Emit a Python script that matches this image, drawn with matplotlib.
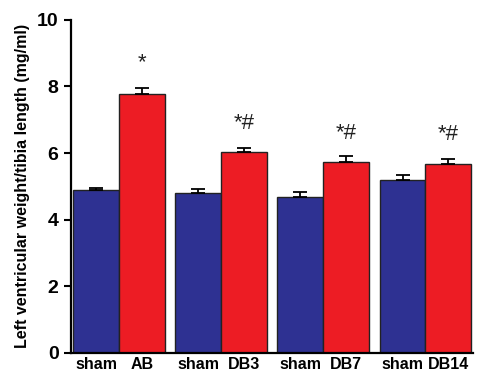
import matplotlib
matplotlib.use("Agg")
import matplotlib.pyplot as plt
import numpy as np

# datos
grupos = ["AB", "DB3", "DB7", "DB14"]
sham_media = [4.90, 4.80, 4.69, 5.20]
sham_err = [0.05, 0.13, 0.14, 0.15]
tratado_media = [7.78, 6.03, 5.73, 5.68]
tratado_err = [0.18, 0.12, 0.19, 0.15]
marcas = ["*", "*#", "*#", "*#"]
marcas_y = [8.7, 6.9, 6.6, 6.55]

azul = "#2E3192"
rojo = "#ED1C24"

plt.rcParams["font.family"] = ["Liberation Sans", "DejaVu Sans"]
plt.rcParams["font.weight"] = "bold"

fig = plt.figure(figsize=(4.83, 3.75), dpi=100)
ax = fig.add_axes([0.147, 0.059, 0.832, 0.888])

paso = 2.22
x0 = np.arange(len(grupos)) * paso + 0.5
x1 = x0 + 1.0

err_kw = dict(ecolor="black", elinewidth=1.3, capsize=5, capthick=1.3)
ax.bar(x0, sham_media, width=1.0, color=azul, edgecolor="#222222", linewidth=1.0,
       yerr=[np.zeros(4), sham_err], error_kw=err_kw, zorder=2)
ax.bar(x1, tratado_media, width=1.0, color=rojo, edgecolor="#222222", linewidth=1.0,
       yerr=[np.zeros(4), tratado_err], error_kw=err_kw, zorder=2)

for xi, m, yi in zip(x1, marcas, marcas_y):
    ax.text(xi, yi, m, ha="center", va="center", fontsize=16, color="#222222",
            fontweight="normal")

ticks = list(x0) + list(x1)
etiquetas = ["sham"] * 4 + grupos
ax.set_xticks(ticks)
ax.set_xticklabels(etiquetas, fontsize=11.5, fontweight="bold")
ax.tick_params(axis="x", length=0, pad=3)

ax.set_xlim(-0.05, 8.69)
ax.set_ylim(0, 10)
ax.set_yticks([0, 2, 4, 6, 8, 10])
ax.tick_params(axis="y", labelsize=14, width=1.5, length=5, direction="out", pad=4)
for t in ax.get_yticklabels():
    t.set_fontweight("bold")

ax.set_ylabel("Left ventricular weight/tibia length (mg/ml)", fontsize=11.5,
              fontweight="bold", labelpad=5)

ax.spines["top"].set_visible(False)
ax.spines["right"].set_visible(False)
ax.spines["left"].set_linewidth(1.6)
ax.spines["bottom"].set_linewidth(1.6)

fig.savefig("out.png", dpi=100)
